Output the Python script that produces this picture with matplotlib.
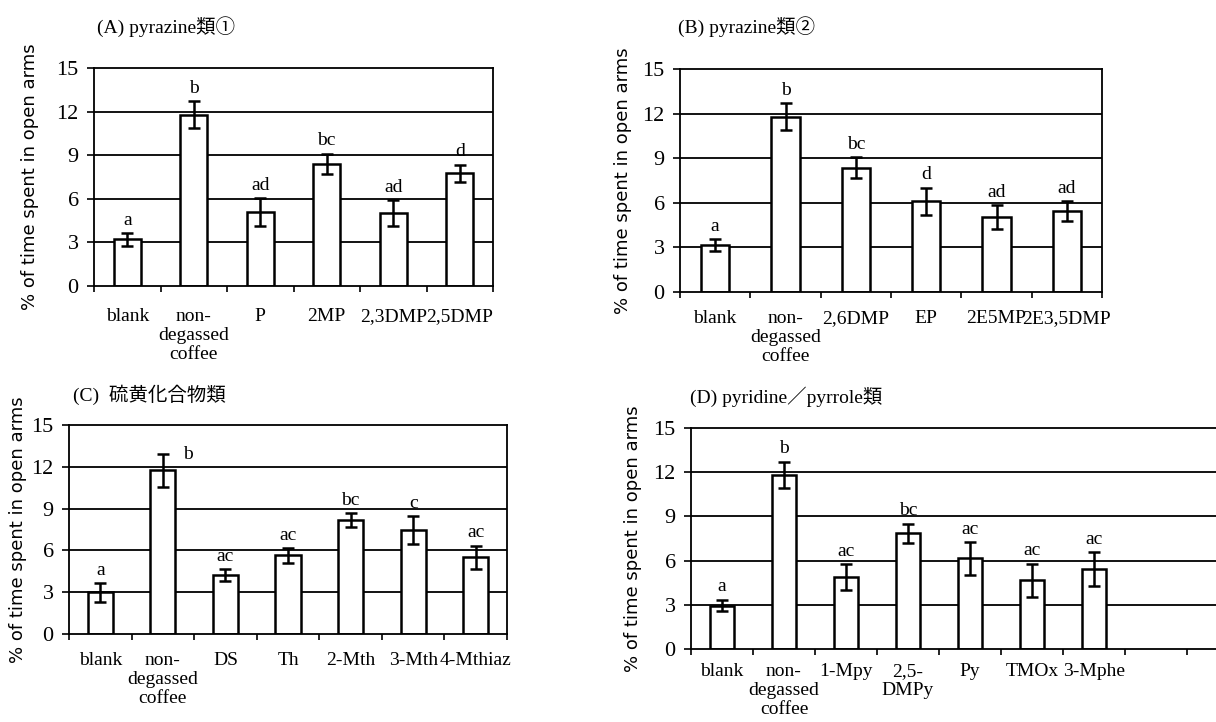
import matplotlib
matplotlib.use('Agg')
import matplotlib.pyplot as plt
import matplotlib.transforms as mtransforms
import numpy as np

plt.rcParams['font.family'] = ['Liberation Serif', 'Noto Sans CJK JP', 'DejaVu Sans']

# panel data
titles = ["(A) pyrazine類①", "(B) pyrazine類②", "(C)  硫黄化合物類", "(D) pyridine／pyrrole類"]

cats_a = ["blank", "non-\ndegassed\ncoffee", "P", "2MP", "2,3DMP", "2,5DMP"]
mean_a = [3.2, 11.8, 5.1, 8.4, 5.0, 7.75]
err_a = [0.45, 0.9, 0.95, 0.7, 0.9, 0.6]
sig_a = ["a", "b", "ad", "bc", "ad", "d"]

cats_b = ["blank", "non-\ndegassed\ncoffee", "2,6DMP", "EP", "2E5MP", "2E3,5DMP"]
mean_b = [3.15, 11.8, 8.35, 6.1, 5.05, 5.45]
err_b = [0.4, 0.9, 0.7, 0.9, 0.8, 0.67]
sig_b = ["a", "b", "bc", "d", "ad", "ad"]

cats_c = ["blank", "non-\ndegassed\ncoffee", "DS", "Th", "2-Mth", "3-Mth", "4-Mthiaz"]
mean_c = [3.0, 11.75, 4.2, 5.65, 8.2, 7.45, 5.5]
err_c = [0.67, 1.2, 0.43, 0.53, 0.5, 1.0, 0.85]
sig_c = ["a", "b", "ac", "ac", "bc", "c", "ac"]

cats_d = ["blank", "non-\ndegassed\ncoffee", "1-Mpy", "2,5-\nDMPy", "Py", "TMOx", "3-Mphe"]
mean_d = [2.95, 11.8, 4.9, 7.85, 6.15, 4.65, 5.4]
err_d = [0.4, 0.9, 0.87, 0.65, 1.1, 1.15, 1.15]
sig_d = ["a", "b", "ac", "bc", "ac", "ac", "ac"]

fig = plt.figure(figsize=(12.16, 7.22), dpi=100)

W, H = 1216., 722.
def px_axes(x0, y0, x1, y1):
	return fig.add_axes([x0 / W, 1 - y1 / H, (x1 - x0) / W, (y1 - y0) / H])

panels = [
	(px_axes(94, 68, 493, 286), cats_a, mean_a, err_a, sig_a, None),
	(px_axes(680, 69, 1102, 292), cats_b, mean_b, err_b, sig_b, None),
	(px_axes(69, 425, 507, 634), cats_c, mean_c, err_c, sig_c, None),
	(px_axes(691, 428, 1218, 649), cats_d, mean_d, err_d, sig_d, 8.0),
]
title_pos = [(97, 27), (678, 27), (73, 395), (690, 397)]
ylabel_x = [30, 623, 18, 633]
xlabel_pad = [16, 13, 13, 10]

for i, (ax, cats, mean, err, sig, xmax) in enumerate(panels):
	x = np.arange(len(cats))
	right = len(cats) - 0.5 if xmax is None else xmax
	for yv in [3, 6, 9, 12]:
		ax.axhline(yv, color="black", lw=1.3, zorder=1)
	ax.bar(x, mean, width=0.4, color="white", edgecolor="black", linewidth=1.8, zorder=2)
	ax.errorbar(x, mean, yerr=err, fmt="none", ecolor="black", elinewidth=1.8,
		capsize=4, capthick=1.8, zorder=3)
	for xi, m, e, s in zip(x, mean, err, sig):
		if i == 2 and s == "b":
			ax.text(xi + 0.4, m + e - 0.1, s, ha="center", va="center", fontsize=14)
		else:
			ax.text(xi, m + e + 0.3, s, ha="center", va="bottom", fontsize=14)

	ax.set_yticks([0, 3, 6, 9, 12, 15])
	ax.set_yticklabels(["0", "3", "6", "9", "12", "15"], fontsize=16)
	ax.set_xticks(x)
	ax.set_xticklabels(cats, fontsize=14, linespacing=1.15)
	ax.set_xticks(np.arange(-0.5, right + 0.01, 1.0), minor=True)
	ax.set_ylim(0, 15)
	ax.set_xlim(-0.5, right)
	ax.tick_params(axis="x", which="major", length=0, pad=xlabel_pad[i])
	ax.tick_params(axis="x", which="minor", length=4, width=1.2, direction="out")
	ax.tick_params(axis="y", length=5, width=1.2, pad=6, direction="out")
	for sp in ax.spines.values():
		sp.set_linewidth(1.3)
	ax.set_ylabel("% of time spent in open arms", fontsize=13, family="DejaVu Sans")
	trans = mtransforms.blended_transform_factory(fig.transFigure, ax.transAxes)
	ax.yaxis.set_label_coords(ylabel_x[i] / W, 0.5, transform=trans)
	ax.yaxis.label.set_va("center")
	tx, ty = title_pos[i]
	fig.text(tx / W, 1 - ty / H, titles[i], fontsize=14, va="center", ha="left")

plt.savefig("out.png", dpi=100)
